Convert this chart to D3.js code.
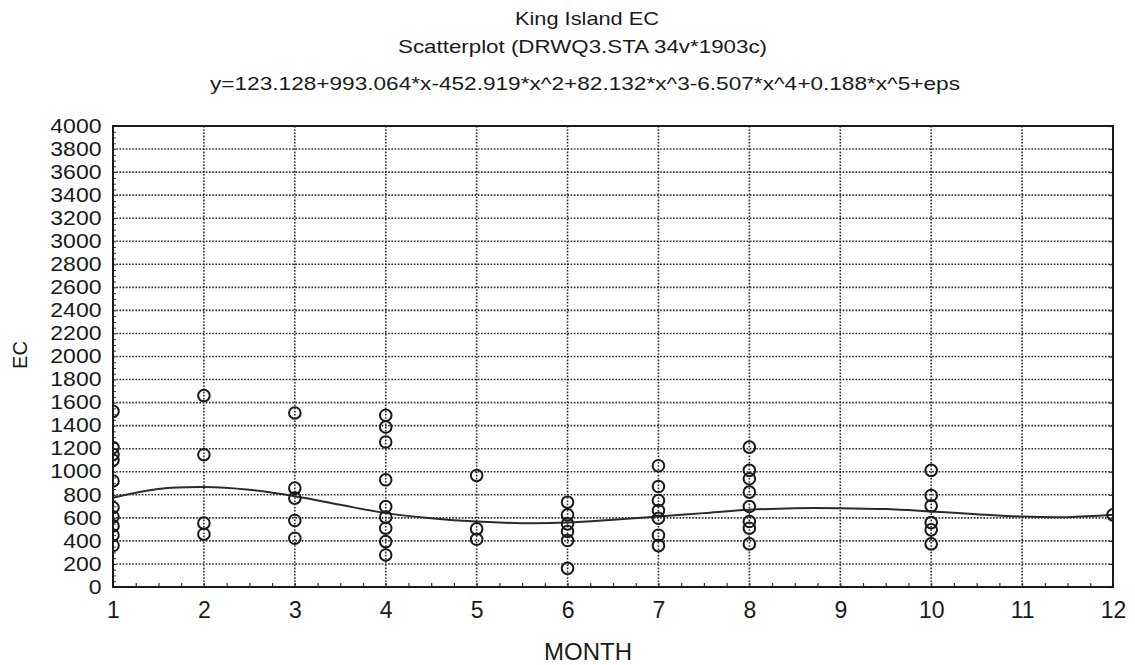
<!DOCTYPE html>
<html>
<head>
<meta charset="utf-8">
<script src="https://cdn.jsdelivr.net/npm/d3@7"></script>
<style>
    body { margin: 0; background: #fff; }
    text { font-family: "Liberation Sans", Arial, sans-serif; fill: #1a1a1a; }
</style>
</head>
<body>
<div id="chartContainer"></div>
<script>
// Observed EC readings per month (scatter points)
const obsMonth = [1, 1, 1, 1, 1, 1, 1, 1, 1, 1,
    2, 2, 2, 2,
    3, 3, 3, 3, 3,
    4, 4, 4, 4, 4, 4, 4, 4, 4,
    5, 5, 5,
    6, 6, 6, 6, 6, 6,
    7, 7, 7, 7, 7, 7, 7,
    8, 8, 8, 8, 8, 8, 8, 8,
    10, 10, 10, 10, 10, 10,
    12];
const obsEC = [1524, 1210, 1150, 1100, 920, 690, 610, 530, 450, 360,
    1661, 1148, 554, 458,
    1510, 858, 771, 577, 423,
    1490, 1388, 1258, 930, 698, 606, 510, 394, 278,
    968, 504, 414,
    736, 626, 548, 481, 403, 162,
    1052, 872, 751, 664, 597, 449, 359,
    1214, 1012, 939, 823, 698, 568, 510, 374,
    1012, 794, 704, 559, 496, 374,
    626];

// Fitted polynomial curve
const fitMonth = [1, 1.5, 2, 2.5, 3, 3.5, 4, 4.5, 5, 5.5, 6, 6.5, 7, 7.5, 8, 8.5, 9, 9.5, 10, 10.5, 11, 11.5, 12];
const fitEC = [775, 850, 867, 843, 788, 713, 641, 597, 568, 554, 559, 583, 611, 641, 670, 684, 684, 676, 655, 632, 611, 606, 626];

const xTicks = [1, 2, 3, 4, 5, 6, 7, 8, 9, 10, 11, 12];
const yTicks = d3.range(0, 4001, 200);

const titleLines = [
    "King Island EC",
    "Scatterplot (DRWQ3.STA 34v*1903c)",
    "y=123.128+993.064*x-452.919*x^2+82.132*x^3-6.507*x^4+0.188*x^5+eps"
];

function init() {
    const W = 1135, H = 665;
    const left = 113, right = 1113, top = 126, bottom = 587;

    const svg = d3.select("#chartContainer").append("svg")
        .attr("width", W)
        .attr("height", H);

    svg.append("rect").attr("width", W).attr("height", H).attr("fill", "#fff");

    const x = d3.scaleLinear().domain([1, 12]).range([left, right]);
    const y = d3.scaleLinear().domain([0, 4000]).range([bottom, top]);

    // Titles
    const titlePos = [
        { cx: 587, y: 25, len: 144 },
        { cx: 582.5, y: 53, len: 369 },
        { cx: 585, y: 90, len: 750 }
    ];
    titleLines.forEach((t, i) => {
        svg.append("text")
            .attr("x", titlePos[i].cx - titlePos[i].len / 2)
            .attr("y", titlePos[i].y)
            .attr("textLength", titlePos[i].len)
            .attr("lengthAdjust", "spacingAndGlyphs")
            .style("font-size", "18.5px")
            .text(t);
    });

    // Dotted grid
    const grid = svg.append("g")
        .attr("stroke", "#2a2a2a")
        .attr("stroke-width", 1.6)
        .attr("stroke-dasharray", "1.6,1.6");

    grid.selectAll(".hgrid")
        .data(yTicks.filter(d => d > 0 && d < 4000))
        .enter().append("line")
        .attr("x1", left).attr("x2", right)
        .attr("y1", d => y(d)).attr("y2", d => y(d));

    grid.selectAll(".vgrid")
        .data(xTicks.filter(d => d > 1 && d < 12))
        .enter().append("line")
        .attr("y1", top).attr("y2", bottom)
        .attr("x1", d => x(d)).attr("x2", d => x(d));

    // Minor ticks (inside)
    const xMinor = d3.range(1, 12.001, 0.25);
    svg.append("g")
        .attr("transform", `translate(0, ${bottom})`)
        .call(d3.axisBottom(x).tickValues(xMinor).tickSize(-4).tickFormat(""))
        .call(g => g.select(".domain").remove())
        .selectAll("line").attr("stroke", "#333").attr("stroke-width", 1.2);

    const yMinor = d3.range(0, 4001, 50);
    svg.append("g")
        .attr("transform", `translate(${left}, 0)`)
        .call(d3.axisLeft(y).tickValues(yMinor).tickSize(-3).tickFormat(""))
        .call(g => g.select(".domain").remove())
        .selectAll("line").attr("stroke", "#333").attr("stroke-width", 1);

    svg.append("g")
        .attr("transform", `translate(${right}, 0)`)
        .call(d3.axisRight(y).tickValues(yTicks).tickSize(-4).tickFormat(""))
        .call(g => g.select(".domain").remove())
        .selectAll("line").attr("stroke", "#333").attr("stroke-width", 1.2);

    // Tick labels
    const yAxis = svg.append("g")
        .attr("transform", `translate(101.5, 0)`)
        .call(d3.axisLeft(y).tickValues(yTicks).tickFormat(d3.format("d")).tickSize(0).tickPadding(0));
    yAxis.select(".domain").remove();
    yAxis.selectAll("text")
        .attr("x", 0)
        .attr("transform", "scale(1.18,1)")
        .style("font-size", "19.5px")
        .style("font-family", "Liberation Sans, Arial, sans-serif")
        .attr("fill", "#1a1a1a");

    const xAxis = svg.append("g")
        .attr("transform", `translate(0, ${bottom})`)
        .call(d3.axisBottom(x).tickValues(xTicks).tickSize(0).tickPadding(14.5));
    xAxis.select(".domain").remove();
    xAxis.selectAll("text")
        .style("font-size", "23px")
        .style("font-family", "Liberation Sans, Arial, sans-serif")
        .attr("fill", "#1a1a1a");

    // Axis titles
    svg.append("text")
        .attr("transform", "translate(27, 355) rotate(-90)")
        .style("text-anchor", "middle")
        .style("font-size", "20px")
        .text("EC");

    svg.append("text")
        .attr("x", 588)
        .attr("y", 660)
        .style("text-anchor", "middle")
        .style("font-size", "24px")
        .text("MONTH");

    // Clip for plot content
    svg.append("clipPath").attr("id", "plotClip")
        .append("rect")
        .attr("x", left).attr("y", top)
        .attr("width", right - left).attr("height", bottom - top);

    const plot = svg.append("g").attr("clip-path", "url(#plotClip)");

    // Fitted curve
    const fitData = fitMonth.map((m, i) => ({ m: m, v: fitEC[i] }));
    const line = d3.line()
        .x(d => x(d.m))
        .y(d => y(d.v))
        .curve(d3.curveCatmullRom);

    plot.append("path")
        .datum(fitData)
        .attr("d", line)
        .style("fill", "none")
        .style("stroke", "#2a2a2a")
        .style("stroke-width", 2);

    // Scatter points
    const pts = obsMonth.map((m, i) => ({ m: m, v: obsEC[i] }));
    plot.selectAll(".pt")
        .data(pts)
        .enter().append("circle")
        .attr("class", "pt")
        .attr("cx", d => x(d.m))
        .attr("cy", d => y(d.v))
        .attr("r", 5.8)
        .style("fill", "none")
        .style("stroke", "#1a1a1a")
        .style("stroke-width", 2);

    // Frame
    svg.append("rect")
        .attr("x", left).attr("y", top)
        .attr("width", right - left).attr("height", bottom - top)
        .style("fill", "none")
        .style("stroke", "#1a1a1a")
        .style("stroke-width", 2);
}
window.onload = init;
</script>
</body>
</html>
